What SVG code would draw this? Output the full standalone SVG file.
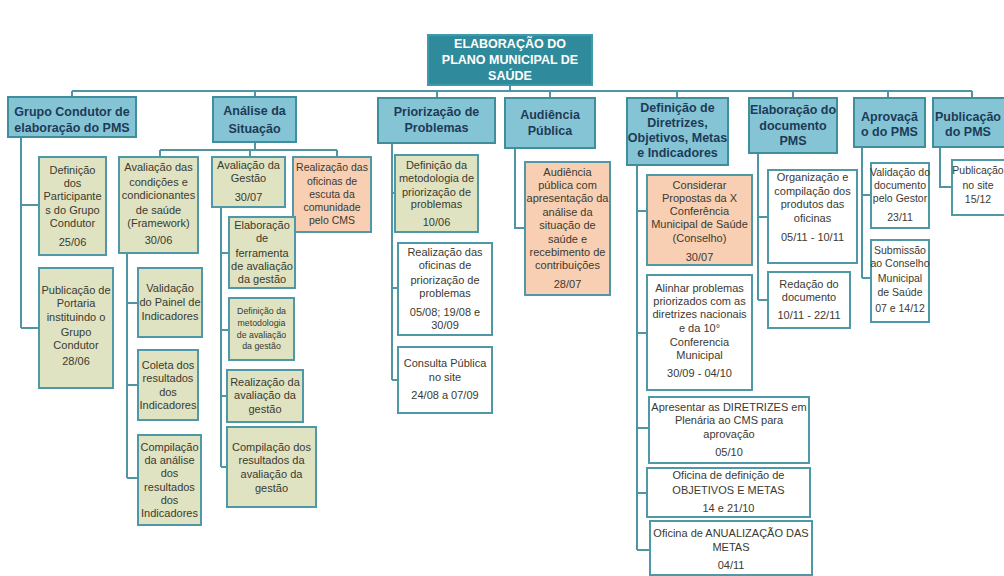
<svg xmlns="http://www.w3.org/2000/svg" width="1004" height="576" viewBox="0 0 1004 576">
<style>
.bg{fill:#ffffff}
.title rect{fill:#2f8b9b;stroke:#3f9aaa;stroke-width:2}
.title text{fill:#ffffff;font-family:"Liberation Sans",Arial,sans-serif;font-weight:bold;font-size:12.5px;text-anchor:middle}
.hdr rect{fill:#85c4d5;stroke:#3f8e9e;stroke-width:2}
.hdr text{fill:#1d3b57;font-family:"Liberation Sans",Arial,sans-serif;font-weight:bold;font-size:12.5px;text-anchor:middle}
.box rect{stroke:#4f98a7;stroke-width:2}
.box text{fill:#3b3a30;font-family:"Liberation Sans",Arial,sans-serif;font-size:11px;text-anchor:middle}
.box text.sm{font-size:8.8px}
.box text.nar{font-size:10.5px}
.gr rect{fill:#dfe3c2}
.sa rect{fill:#f8cfb3}
.wh rect{fill:#ffffff}
#connectors path{fill:none;stroke:#4f95a4;stroke-width:2}
</style>
<rect class="bg" x="0" y="0" width="1004" height="576"/>

<g id="connectors">
<path d="M510,85 V91 M72,91 H972 M72,91 V97 M255,91 V97 M437,91 V98 M550,91 V98 M677,91 V98 M793,91 V98 M888,91 V98 M972,91 V98"/>
<path d="M21,137 V328 M21,205 H39 M21,328 H39"/>
<path d="M255,142 V150 M160,150 H337 M160,150 V157 M250,150 V157 M337,150 V157"/>
<path d="M127,253 V478 M127,303 H138 M127,385 H138 M127,478 H138"/>
<path d="M221,207 V467 M221,253 H229 M221,330 H229 M221,396 H227 M221,467 H227"/>
<path d="M392,143 V380 M392,193 H395 M392,288 H398 M392,380 H398"/>
<path d="M515,148 V228 H525"/>
<path d="M637,165 V550 M637,211 H647 M637,333 H647 M637,428 H649 M637,493 H647 M637,550 H650"/>
<path d="M758,153 V300 M758,217 H768 M758,300 H768"/>
<path d="M862,147 V278 M862,195 H871 M862,278 H871"/>
<path d="M940,147 V187 H952"/>
</g>

<g id="title" class="title">
<rect x="428" y="35" width="164" height="50"/>
<text><tspan x="510" y="48">ELABORAÇÃO DO</tspan><tspan x="510" y="64">PLANO MUNICIPAL DE</tspan><tspan x="510" y="80">SAÚDE</tspan></text>
</g>

<g id="h-grupo" class="hdr">
<rect x="8" y="97" width="128" height="40"/>
<text><tspan x="72" y="116">Grupo Condutor de</tspan><tspan x="72" y="132">elaboração do PMS</tspan></text>
</g>
<g id="h-analise" class="hdr">
<rect x="213" y="97" width="83" height="45"/>
<text><tspan x="254.5" y="115">Análise da</tspan><tspan x="254.5" y="133">Situação</tspan></text>
</g>
<g id="h-prior" class="hdr">
<rect x="378" y="98" width="117" height="45"/>
<text><tspan x="436.5" y="116">Priorização de</tspan><tspan x="436.5" y="132">Problemas</tspan></text>
</g>
<g id="h-audiencia" class="hdr">
<rect x="505" y="98" width="90" height="50"/>
<text><tspan x="550" y="119">Audiência</tspan><tspan x="550" y="135">Pública</tspan></text>
</g>
<g id="h-definicao" class="hdr">
<rect x="627" y="98" width="101" height="67"/>
<text><tspan x="677.5" y="112">Definição de</tspan><tspan x="677.5" y="127">Diretrizes,</tspan><tspan x="677.5" y="142">Objetivos, Metas</tspan><tspan x="677.5" y="157">e Indicadores</tspan></text>
</g>
<g id="h-elab" class="hdr">
<rect x="749" y="98" width="88" height="55"/>
<text><tspan x="793" y="114">Elaboração do</tspan><tspan x="793" y="130">documento</tspan><tspan x="793" y="145">PMS</tspan></text>
</g>
<g id="h-aprov" class="hdr">
<rect x="854" y="98" width="71" height="49"/>
<text><tspan x="889.5" y="121">Aprovaçã</tspan><tspan x="889.5" y="136">o do PMS</tspan></text>
</g>
<g id="h-publ" class="hdr">
<rect x="933" y="98" width="80" height="49"/>
<text><tspan x="968" y="121">Publicação</tspan><tspan x="968" y="136">do PMS</tspan></text>
</g>

<g id="n-def-part" class="box gr">
<rect x="39" y="157" width="67" height="98"/>
<text><tspan x="72.5" y="174">Definição</tspan><tspan x="72.5" y="187">dos</tspan><tspan x="72.5" y="200">Participante</tspan><tspan x="72.5" y="214">s do Grupo</tspan><tspan x="72.5" y="227">Condutor</tspan><tspan x="72.5" y="246">25/06</tspan></text>
</g>
<g id="n-portaria" class="box gr">
<rect x="39" y="268" width="74" height="120"/>
<text><tspan x="76" y="294">Publicação de</tspan><tspan x="76" y="307">Portaria</tspan><tspan x="76" y="321">instituindo o</tspan><tspan x="76" y="336">Grupo</tspan><tspan x="76" y="349">Condutor</tspan><tspan x="76" y="365">28/06</tspan></text>
</g>

<g id="n-aval-cond" class="box gr">
<rect x="119" y="157" width="79" height="96"/>
<text><tspan x="158.5" y="171">Avaliação das</tspan><tspan x="158.5" y="186">condições e</tspan><tspan x="158.5" y="199">condicionantes</tspan><tspan x="158.5" y="214">de saúde</tspan><tspan x="158.5" y="227">(Framework)</tspan><tspan x="158.5" y="244">30/06</tspan></text>
</g>
<g id="n-aval-gestao" class="box gr">
<rect x="212" y="157" width="73" height="50"/>
<text><tspan x="248.5" y="169">Avaliação da</tspan><tspan x="248.5" y="182">Gestão</tspan><tspan x="248.5" y="201">30/07</tspan></text>
</g>
<g id="n-escuta" class="box sa">
<rect x="293" y="157" width="78" height="75"/>
<text class="nar"><tspan x="332" y="171">Realização das</tspan><tspan x="332" y="185">oficinas  de</tspan><tspan x="332" y="198">escuta da</tspan><tspan x="332" y="211">comunidade</tspan><tspan x="332" y="224">pelo CMS</tspan></text>
</g>
<g id="n-painel" class="box gr">
<rect x="138" y="268" width="64" height="69"/>
<text><tspan x="170" y="292">Validação</tspan><tspan x="170" y="306">do Painel de</tspan><tspan x="170" y="320">Indicadores</tspan></text>
</g>
<g id="n-coleta" class="box gr">
<rect x="138" y="350" width="60" height="70"/>
<text><tspan x="168" y="369">Coleta dos</tspan><tspan x="168" y="382">resultados</tspan><tspan x="168" y="396">dos</tspan><tspan x="168" y="409">Indicadores</tspan></text>
</g>
<g id="n-compil-anal" class="box gr">
<rect x="138" y="435" width="63" height="90"/>
<text><tspan x="169.5" y="451">Compilação</tspan><tspan x="169.5" y="464">da análise</tspan><tspan x="169.5" y="477">dos</tspan><tspan x="169.5" y="491">resultados</tspan><tspan x="169.5" y="504">dos</tspan><tspan x="169.5" y="517">Indicadores</tspan></text>
</g>
<g id="n-ferramenta" class="box gr">
<rect x="229" y="217" width="66" height="71"/>
<text><tspan x="262" y="229">Elaboração</tspan><tspan x="262" y="242">de</tspan><tspan x="262" y="257">ferramenta</tspan><tspan x="262" y="270">de avaliação</tspan><tspan x="262" y="283">da gestão</tspan></text>
</g>
<g id="n-metod-gestao" class="box gr">
<rect x="229" y="298" width="65" height="62"/>
<text class="sm"><tspan x="261.5" y="314">Definição da</tspan><tspan x="261.5" y="326">metodologia</tspan><tspan x="261.5" y="338">de avaliação</tspan><tspan x="261.5" y="349">da gestão</tspan></text>
</g>
<g id="n-real-aval" class="box gr">
<rect x="227" y="370" width="76" height="52"/>
<text><tspan x="265" y="386">Realização da</tspan><tspan x="265" y="399">avaliação da</tspan><tspan x="265" y="413">gestão</tspan></text>
</g>
<g id="n-compil-gestao" class="box gr">
<rect x="227" y="427" width="89" height="80"/>
<text><tspan x="271.5" y="451">Compilação dos</tspan><tspan x="271.5" y="464">resultados da</tspan><tspan x="271.5" y="478">avaliação da</tspan><tspan x="271.5" y="492">gestão</tspan></text>
</g>

<g id="n-metod-prior" class="box gr">
<rect x="395" y="155" width="83" height="77"/>
<text><tspan x="436.5" y="169">Definição da</tspan><tspan x="436.5" y="182">metodologia de</tspan><tspan x="436.5" y="196">priorização de</tspan><tspan x="436.5" y="208">problemas</tspan><tspan x="436.5" y="226">10/06</tspan></text>
</g>
<g id="n-oficinas-prior" class="box wh">
<rect x="398" y="243" width="94" height="92"/>
<text><tspan x="445" y="256">Realização das</tspan><tspan x="445" y="269">oficinas de</tspan><tspan x="445" y="284">priorização de</tspan><tspan x="445" y="297">problemas</tspan><tspan x="445" y="316">05/08; 19/08 e</tspan><tspan x="445" y="329">30/09</tspan></text>
</g>
<g id="n-consulta" class="box wh">
<rect x="398" y="347" width="94" height="66"/>
<text><tspan x="445" y="367">Consulta Pública</tspan><tspan x="445" y="381">no site</tspan><tspan x="445" y="399">24/08 a 07/09</tspan></text>
</g>

<g id="n-audiencia" class="box sa">
<rect x="525" y="162" width="85" height="133"/>
<text><tspan x="567.5" y="176">Audiência</tspan><tspan x="567.5" y="189">pública  com</tspan><tspan x="567.5" y="202">apresentação da</tspan><tspan x="567.5" y="216">análise da</tspan><tspan x="567.5" y="229">situação de</tspan><tspan x="567.5" y="243">saúde e</tspan><tspan x="567.5" y="256">recebimento de</tspan><tspan x="567.5" y="269">contribuições</tspan><tspan x="567.5" y="288">28/07</tspan></text>
</g>

<g id="n-conferencia" class="box sa">
<rect x="647" y="175" width="105" height="90"/>
<text><tspan x="699.5" y="189">Considerar</tspan><tspan x="699.5" y="202">Propostas da X</tspan><tspan x="699.5" y="215">Conferência</tspan><tspan x="699.5" y="228">Municipal de Saúde</tspan><tspan x="699.5" y="242">(Conselho)</tspan><tspan x="699.5" y="261">30/07</tspan></text>
</g>
<g id="n-alinhar" class="box wh">
<rect x="647" y="275" width="105" height="115"/>
<text><tspan x="699.5" y="292">Alinhar problemas</tspan><tspan x="699.5" y="305">priorizados com as</tspan><tspan x="699.5" y="318">diretrizes nacionais</tspan><tspan x="699.5" y="332">e da 10°</tspan><tspan x="699.5" y="346">Conferencia</tspan><tspan x="699.5" y="359">Municipal</tspan><tspan x="699.5" y="377">30/09 - 04/10</tspan></text>
</g>
<g id="n-diretrizes" class="box wh">
<rect x="649" y="397" width="160" height="66"/>
<text><tspan x="729" y="411">Apresentar as DIRETRIZES em</tspan><tspan x="729" y="424">Plenária ao CMS para</tspan><tspan x="729" y="438">aprovação</tspan><tspan x="729" y="456">05/10</tspan></text>
</g>
<g id="n-objetivos" class="box wh">
<rect x="647" y="468" width="163" height="49"/>
<text><tspan x="728.5" y="479">Oficina de definição de</tspan><tspan x="728.5" y="494">OBJETIVOS E METAS</tspan><tspan x="728.5" y="512">14 e 21/10</tspan></text>
</g>
<g id="n-anualizacao" class="box wh">
<rect x="650" y="521" width="162" height="54"/>
<text><tspan x="731" y="537">Oficina de ANUALIZAÇÃO DAS</tspan><tspan x="731" y="551">METAS</tspan><tspan x="731" y="569">04/11</tspan></text>
</g>

<g id="n-organizacao" class="box wh">
<rect x="768" y="170" width="89" height="93"/>
<text><tspan x="812.5" y="181">Organização e</tspan><tspan x="812.5" y="195">compilação dos</tspan><tspan x="812.5" y="208">produtos das</tspan><tspan x="812.5" y="222">oficinas</tspan><tspan x="812.5" y="241">05/11 - 10/11</tspan></text>
</g>
<g id="n-redacao" class="box wh">
<rect x="768" y="272" width="82" height="56"/>
<text><tspan x="809" y="288">Redação do</tspan><tspan x="809" y="301">documento</tspan><tspan x="809" y="319">10/11 - 22/11</tspan></text>
</g>

<g id="n-validacao" class="box wh">
<rect x="871" y="163" width="58" height="65"/>
<text class="nar"><tspan x="900" y="176">Validação do</tspan><tspan x="900" y="189">documento</tspan><tspan x="900" y="202">pelo Gestor</tspan><tspan x="900" y="221">23/11</tspan></text>
</g>
<g id="n-submissao" class="box wh">
<rect x="871" y="240" width="58" height="82"/>
<text class="nar"><tspan x="900" y="254">Submissão</tspan><tspan x="900" y="267">ao Conselho</tspan><tspan x="900" y="282">Municipal</tspan><tspan x="900" y="296">de Saúde</tspan><tspan x="900" y="312">07 e 14/12</tspan></text>
</g>

<g id="n-publ-site" class="box wh">
<rect x="952" y="160" width="70" height="55"/>
<text class="nar"><tspan x="978" y="174">Publicação</tspan><tspan x="978" y="189">no site</tspan><tspan x="978" y="203">15/12</tspan></text>
</g>
</svg>
